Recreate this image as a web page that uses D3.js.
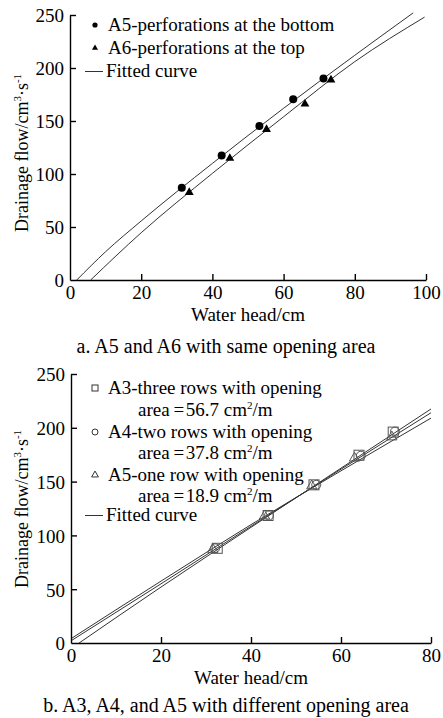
<!DOCTYPE html>
<html>
<head>
<meta charset="utf-8">
<script src="https://cdn.jsdelivr.net/npm/d3@7"></script>
<style>
  html, body { margin: 0; padding: 0; background: #fff; }
  svg { display: block; }
</style>
</head>
<body>
<svg id="chart" width="443" height="718"></svg>
<script>
// ---------- Panel a data ----------
const aXTicks = [0, 20, 40, 60, 80, 100];
const aYTicks = [0, 50, 100, 150, 200, 250];
const a5Head = [31.4, 42.6, 53.2, 62.7, 71.2];
const a5Flow = [87, 117.5, 145.3, 170.5, 190];
const a6Head = [33.5, 44.9, 55.2, 66, 73.3];
const a6Flow = [82.7, 114.8, 142, 166, 188.7];
const a5FitHead = [1.9, 10, 20, 40, 60, 80, 96.4];
const a5FitFlow = [0, 26.7, 55.7, 110, 162, 212, 252];
const a6FitHead = [5.8, 20, 40, 60, 80, 99.6];
const a6FitFlow = [0, 44.6, 100.6, 154, 206, 248];

// ---------- Panel b data ----------
const bXTicks = [0, 20, 40, 60, 80];
const bYTicks = [0, 50, 100, 150, 200, 250];
const a3Head = [32.5, 43.8, 54, 64, 71.6];
const a3Flow = [88, 118.5, 147, 174.5, 196];
const a4Head = [32, 44, 54.5, 64.4, 72];
const a4Flow = [88, 118.5, 147, 174, 196.5];
const a5bHead = [31.5, 43, 53.5, 63, 71.3];
const a5bFlow = [87, 118, 146, 171.8, 191.5];
const fitA3Head = [1.8, 20, 40, 60, 80];
const fitA3Flow = [0, 52, 107.5, 162.5, 217.5];
const fitA4Head = [0, 20, 40, 60, 80];
const fitA4Flow = [2, 55, 108.5, 161.5, 214];
const fitA5Head = [0, 20, 40, 60, 80];
const fitA5Flow = [4, 57.5, 110, 160, 209];

const legendA = ["A5-perforations at the bottom", "A6-perforations at the top", "Fitted curve"];
const captionA = "a. A5 and A6 with same opening area";
const captionB = "b. A3, A4, and A5 with different opening area";
const xTitle = "Water head/cm";

const FS = 19;
const svg = d3.select("#chart");
const zip = (xs, ys) => xs.map((x, i) => [x, ys[i]]);

function yTitle(g, cx, cy) {
  const t = g.append("text")
    .attr("transform", `translate(${cx},${cy}) rotate(-90)`)
    .attr("text-anchor", "middle")
    .attr("font-size", 18);
  t.append("tspan").text("Drainage flow/cm");
  t.append("tspan").attr("font-size", 11).attr("dy", -7).text("3");
  t.append("tspan").attr("dy", 7).text("·s");
  t.append("tspan").attr("font-size", 11).attr("dy", -7).text("-1");
}

function drawAxes(x, y, xt, yt) {
  const gx = svg.append("g").attr("transform", `translate(0,${y(0)})`)
    .call(d3.axisBottom(x).tickValues(xt).tickSizeInner(-6).tickSizeOuter(0).tickPadding(6));
  const gy = svg.append("g").attr("transform", `translate(${x(0)},0)`)
    .call(d3.axisLeft(y).tickValues(yt).tickSizeInner(-6).tickSizeOuter(0).tickPadding(6));
  [gx, gy].forEach(g => {
    g.select(".domain").attr("stroke", "#000").attr("stroke-width", 1.4);
    g.selectAll(".tick line").attr("stroke", "#000").attr("stroke-width", 1.4);
    g.selectAll(".tick text").attr("font-size", FS).attr("fill", "#000");
  });
  gx.selectAll(".tick").filter(d => d === 0).select("line").remove();
  gy.selectAll(".tick").filter(d => d === 0).select("line").remove();
  gy.selectAll(".tick text").attr("dy", "0.36em");
}

// ================= Panel a =================
const xa = d3.scaleLinear().domain([0, 100]).range([70, 426]);
const ya = d3.scaleLinear().domain([0, 250]).range([280, 15]);
const lineA = d3.line().x(d => xa(d[0])).y(d => ya(d[1])).curve(d3.curveMonotoneX);

[zip(a5FitHead, a5FitFlow), zip(a6FitHead, a6FitFlow)].forEach(pts => {
  svg.append("path").attr("d", lineA(pts)).attr("fill", "none")
    .attr("stroke", "#333").attr("stroke-width", 1);
});
drawAxes(xa, ya, aXTicks, aYTicks);

svg.append("g").selectAll("circle").data(zip(a5Head, a5Flow)).join("circle")
  .attr("cx", d => xa(d[0])).attr("cy", d => ya(d[1])).attr("r", 4).attr("fill", "#000");
const triA = d3.symbol().type(d3.symbolTriangle).size(34);
svg.append("g").selectAll("path").data(zip(a6Head, a6Flow)).join("path")
  .attr("d", triA).attr("transform", d => `translate(${xa(d[0])},${ya(d[1])})`).attr("fill", "#000");

// legend a
const lgA = svg.append("g").attr("font-size", FS);
lgA.append("circle").attr("cx", 95).attr("cy", 25).attr("r", 2.6).attr("fill", "#000");
lgA.append("text").attr("x", 108).attr("y", 31).text(legendA[0]);
lgA.append("path").attr("d", d3.symbol().type(d3.symbolTriangle).size(16))
  .attr("transform", "translate(95,48)").attr("fill", "#000");
lgA.append("text").attr("x", 108).attr("y", 54).text(legendA[1]);
lgA.append("line").attr("x1", 85).attr("x2", 103).attr("y1", 71.5).attr("y2", 71.5)
  .attr("stroke", "#333").attr("stroke-width", 1);
lgA.append("text").attr("x", 106).attr("y", 77).text(legendA[2]);

svg.append("text").attr("x", xa(50)).attr("y", 321).attr("text-anchor", "middle")
  .attr("font-size", FS).text(xTitle);
svg.append("text").attr("x", 226).attr("y", 353).attr("text-anchor", "middle")
  .attr("font-size", 20).text(captionA);
yTitle(svg, 28, 153);

// ================= Panel b =================
const xb = d3.scaleLinear().domain([0, 80]).range([71, 431]);
const yb = d3.scaleLinear().domain([0, 250]).range([643, 374]);
const lineB = d3.line().x(d => xb(d[0])).y(d => yb(d[1])).curve(d3.curveMonotoneX);

[zip(fitA3Head, fitA3Flow), zip(fitA4Head, fitA4Flow), zip(fitA5Head, fitA5Flow)].forEach(pts => {
  svg.append("path").attr("d", lineB(pts)).attr("fill", "none")
    .attr("stroke", "#333").attr("stroke-width", 1);
});
drawAxes(xb, yb, bXTicks, bYTicks);

const mk = "#555";
svg.append("g").selectAll("rect").data(zip(a3Head, a3Flow)).join("rect")
  .attr("x", d => xb(d[0]) - 5).attr("y", d => yb(d[1]) - 5)
  .attr("width", 10).attr("height", 10).attr("fill", "none").attr("stroke", mk).attr("stroke-width", 1);
svg.append("g").selectAll("circle").data(zip(a4Head, a4Flow)).join("circle")
  .attr("cx", d => xb(d[0])).attr("cy", d => yb(d[1])).attr("r", 4.5)
  .attr("fill", "none").attr("stroke", mk).attr("stroke-width", 1);
const triB = d3.symbol().type(d3.symbolTriangle).size(45);
svg.append("g").selectAll("path").data(zip(a5bHead, a5bFlow)).join("path")
  .attr("d", triB).attr("transform", d => `translate(${xb(d[0])},${yb(d[1])})`)
  .attr("fill", "none").attr("stroke", mk).attr("stroke-width", 1);

// legend b
const lgB = svg.append("g").attr("font-size", FS);
function areaText(y, val) {
  const t = lgB.append("text").attr("x", 138).attr("y", y);
  t.append("tspan").text("area\u2009=\u200a" + val + " cm");
  t.append("tspan").attr("font-size", 11).attr("dy", -7).text("2");
  t.append("tspan").attr("dy", 7).text("/m");
}
lgB.append("rect").attr("x", 92).attr("y", 385).attr("width", 6).attr("height", 6)
  .attr("fill", "none").attr("stroke", "#333").attr("stroke-width", 1);
lgB.append("text").attr("x", 108).attr("y", 394).text("A3-three rows with opening");
areaText(416, "56.7");
lgB.append("circle").attr("cx", 95).attr("cy", 432).attr("r", 3)
  .attr("fill", "none").attr("stroke", "#333").attr("stroke-width", 1);
lgB.append("text").attr("x", 108).attr("y", 438).text("A4-two rows with opening");
areaText(459, "37.8");
lgB.append("path").attr("d", d3.symbol().type(d3.symbolTriangle).size(20))
  .attr("transform", "translate(95,475)").attr("fill", "none").attr("stroke", "#333").attr("stroke-width", 1);
lgB.append("text").attr("x", 108).attr("y", 481).text("A5-one row with opening");
areaText(502, "18.9");
lgB.append("line").attr("x1", 85).attr("x2", 103).attr("y1", 515.5).attr("y2", 515.5)
  .attr("stroke", "#333").attr("stroke-width", 1);
lgB.append("text").attr("x", 106).attr("y", 521).text(legendA[2]);

svg.append("text").attr("x", xb(40)).attr("y", 684).attr("text-anchor", "middle")
  .attr("font-size", FS).text(xTitle);
svg.append("text").attr("x", 226).attr("y", 712).attr("text-anchor", "middle")
  .attr("font-size", 20).text(captionB);
yTitle(svg, 28, 509);

svg.selectAll("text").style("font-family", "'Liberation Serif', serif").style("fill", "#000");
</script>
</body>
</html>
